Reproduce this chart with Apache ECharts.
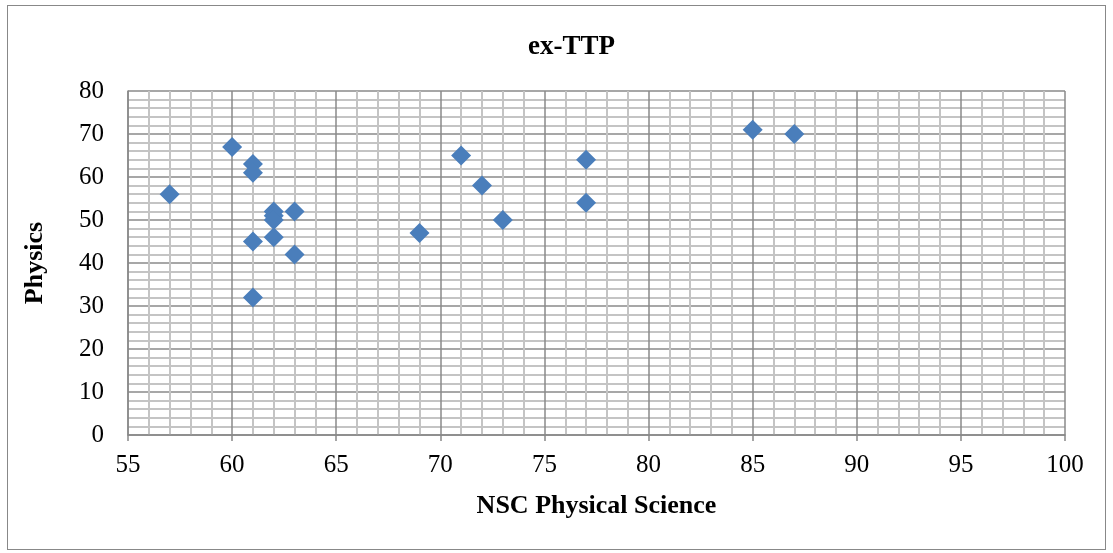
<!DOCTYPE html>
<html>
<head>
<meta charset="utf-8">
<script src="https://cdn.jsdelivr.net/npm/echarts@6/dist/echarts.min.js"></script>
<style>
  html, body { margin: 0; padding: 0; background: #fff; }
  #frame {
    position: absolute; left: 7px; top: 5px; width: 1099px; height: 545px;
    border: 1.5px solid #888; box-sizing: border-box;
  }
  #chart { position: absolute; left: 0; top: 0; width: 1113px; height: 553px; }
</style>
</head>
<body>
<div id="frame"></div>
<div id="chart"></div>
<script>
  // NSC Physical Science (x) vs Physics (y)
  var nscScores = [57, 60, 61, 61, 62, 62, 62, 63, 61, 62, 63, 61, 69, 71, 72, 73, 77, 77, 85, 87]
  var physicsScores = [56, 67, 63, 61, 52, 51, 50, 52, 45, 46, 42, 32, 47, 65, 58, 50, 64, 54, 71, 70]
  var xTicks = [55, 60, 65, 70, 75, 80, 85, 90, 95, 100]
  var yTicks = [0, 10, 20, 30, 40, 50, 60, 70, 80]

  var points = nscScores.map(function (x, i) { return [x, physicsScores[i]] })
  var font = '"Liberation Serif", "Times New Roman", serif'

  var chart = echarts.init(document.getElementById('chart'))
  chart.setOption({
    animation: false,
    title: {
      text: 'ex-TTP',
      left: 523,
      top: 29,
      textStyle: { fontFamily: font, fontSize: 27, fontWeight: 'bold', color: '#000' }
    },
    grid: { left: 128, right: 48, top: 91, bottom: 118 },
    xAxis: {
      type: 'value',
      min: xTicks[0],
      max: xTicks[xTicks.length - 1],
      interval: 5,
      name: 'NSC Physical Science',
      nameLocation: 'middle',
      nameGap: 58,
      nameTextStyle: { fontFamily: font, fontSize: 26, fontWeight: 'bold', color: '#000' },
      axisLine: { lineStyle: { color: '#888', width: 1.5 } },
      axisTick: { show: true, length: 6, lineStyle: { color: '#888', width: 1.5 } },
      axisLabel: { fontFamily: font, fontSize: 25, color: '#000', margin: 18 },
      splitLine: { show: true, lineStyle: { color: '#8a8a8a', width: 1.5 } },
      minorTick: { show: false, splitNumber: 5 },
      minorSplitLine: { show: true, lineStyle: { color: '#c4c4c4', width: 2 } }
    },
    yAxis: {
      type: 'value',
      min: yTicks[0],
      max: yTicks[yTicks.length - 1],
      interval: 10,
      name: 'Physics',
      nameLocation: 'middle',
      nameGap: 80,
      nameRotate: 90,
      nameTextStyle: { fontFamily: font, fontSize: 26, fontWeight: 'bold', color: '#000' },
      axisLine: { show: true, lineStyle: { color: '#888', width: 1.5 } },
      axisTick: { show: false },
      axisLabel: { fontFamily: font, fontSize: 25, color: '#000', margin: 24 },
      splitLine: { show: true, lineStyle: { color: '#8a8a8a', width: 1.5 } },
      minorTick: { show: false, splitNumber: 5 },
      minorSplitLine: { show: true, lineStyle: { color: '#c4c4c4', width: 2 } }
    },
    series: [
      {
        type: 'scatter',
        data: points,
        symbol: 'diamond',
        symbolSize: [20, 20],
        itemStyle: { color: '#4a7ebb', opacity: 1 }
      }
    ]
  })
</script>
</body>
</html>
